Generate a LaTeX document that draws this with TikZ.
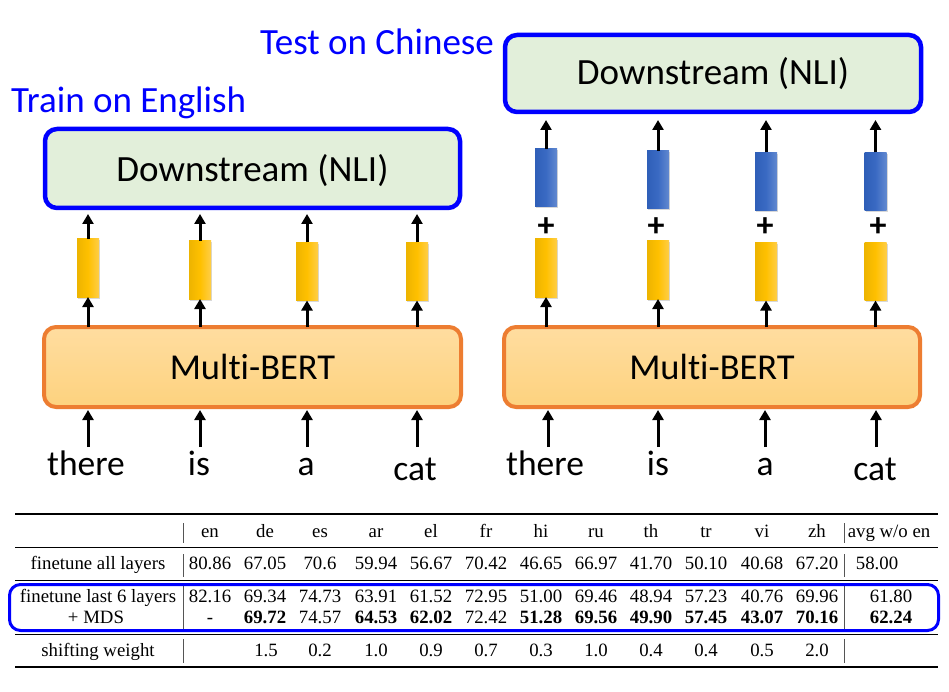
\documentclass[tikz,border=0pt]{standalone}
\usepackage{fontspec}
\setmainfont{Liberation Serif}
\newfontfamily\calib[Ligatures=NoCommon]{Carlito}
\usetikzlibrary{arrows.meta,shadows}
\definecolor{dsfill}{HTML}{E2EFDA}
\definecolor{bord}{HTML}{0000FF}
\definecolor{orng}{HTML}{ED7D31}
\definecolor{mbtop}{HTML}{FFDDA0}
\definecolor{mbbot}{HTML}{FDD27E}
\definecolor{yl}{HTML}{EDB400}
\definecolor{ym}{HTML}{FFC000}
\definecolor{yr}{HTML}{FFCE48}
\definecolor{bl}{HTML}{2F5FB8}
\definecolor{bm}{HTML}{3A6AC3}
\definecolor{br}{HTML}{6289D0}
\definecolor{vbar}{HTML}{555555}
\begin{document}
\begin{tikzpicture}[x=1pt,y=-1pt,
  dsbox/.style={draw=bord, line width=4.5pt, fill=dsfill, rounded corners=12pt,
    minimum width=415pt, minimum height=79pt, inner sep=0pt, outer sep=0pt,
    font=\calib\fontsize{37}{40}\selectfont, text depth=0pt},
  mbbox/.style={draw=orng, line width=4pt, top color=mbtop, bottom color=mbbot, rounded corners=12pt,
    minimum width=417pt, minimum height=80pt, inner sep=0pt, outer sep=0pt,
    font=\calib\fontsize{36.5}{40}\selectfont, text height=24pt, text depth=0pt},
  ybar/.style={minimum width=22pt, minimum height=58pt, inner sep=0pt, outer sep=0pt,
    left color=yl, right color=yr, middle color=ym,
    drop shadow={opacity=0.3, shadow xshift=1.2pt, shadow yshift=-1.5pt}},
  bbar/.style={minimum width=22pt, minimum height=58pt, inner sep=0pt, outer sep=0pt,
    left color=bl, right color=br, middle color=bm,
    drop shadow={opacity=0.3, shadow xshift=1.2pt, shadow yshift=-1.5pt}},
  arr/.style={-{Triangle[width=11pt,length=10pt]}, line width=3pt},
  word/.style={anchor=base, inner sep=0pt, font=\calib\fontsize{35.5}{40}\selectfont},
  ttl/.style={anchor=base west, inner sep=0pt, text=bord, font=\calib\fontsize{37}{40}\selectfont},
  plus/.style={inner sep=0pt, font=\calib\bfseries\fontsize{34}{34}\selectfont},
  tc/.style={anchor=base, inner sep=0pt, font=\fontsize{18.8}{20}\selectfont},
  thick rule/.style={line width=1.5pt},
  thin rule/.style={line width=0.8pt},
  vsep/.style={draw=vbar, line width=1pt}
]
\useasboundingbox (0,0) rectangle (949,692);
\fill[white] (0,0) rectangle (949,692);

% titles
\node[ttl] (trainE) at (11,113) {Train on English};
\node[ttl] (testC) at (260,55) {Test on Chinese};

% ---------- left diagram ----------
\node[dsbox, text height=27pt] (dsL) at (252.5,168.5) {Downstream (NLI)};
\node[mbbox] (mbL) at (252.5,367) {Multi-BERT};

\node[ybar] (ly1) at (88,268) {};
\node[ybar] (ly2) at (200,270) {};
\node[ybar] (ly3) at (307,271.5) {};
\node[ybar] (ly4) at (417,271.5) {};

\foreach \i in {1,...,4} {
  \draw[arr, shorten >=6pt] (ly\i.north) -- (ly\i.north |- dsL.south);
  \draw[arr] (ly\i.south |- mbL.north) -- (ly\i.south);
}

\node[word] (lw1) at (86,475) {there};
\node[word] (lw2) at (199,475) {is};
\node[word] (lw3) at (306,475) {a};
\node[word] (lw4) at (415,480) {cat};
\coordinate (la1) at (88,447);
\coordinate (la2) at (200,447);
\coordinate (la3) at (307,447);
\coordinate (la4) at (417,447);
\foreach \i in {1,...,4}
  \draw[arr, shorten >=3pt] (la\i) -- (la\i |- mbL.south);

% ---------- right diagram ----------
\node[dsbox, text height=23pt, minimum width=416pt, minimum height=77pt] (dsR) at (713,73.5) {Downstream (NLI)};
\node[mbbox, minimum width=416pt] (mbR) at (712,367) {Multi-BERT};

\node[bbar] (rb1) at (546,178) {};
\node[bbar] (rb2) at (658,180) {};
\node[bbar] (rb3) at (766,181.5) {};
\node[bbar] (rb4) at (875.5,181.5) {};
\node[ybar] (ry1) at (546,268) {};
\node[ybar] (ry2) at (658,270) {};
\node[ybar] (ry3) at (766,271.5) {};
\node[ybar] (ry4) at (875.5,271.5) {};

\node[plus] (p1) at (546,227) {+};
\node[plus] (p2) at (656,227) {+};
\node[plus] (p3) at (765,227) {+};
\node[plus] (p4) at (878,227) {+};

\foreach \i in {1,...,4} {
  \draw[arr, shorten >=8pt] (rb\i.north) -- (rb\i.north |- dsR.south);
  \draw[arr] (ry\i.south |- mbR.north) -- (ry\i.south);
}

\node[word] (rw1) at (545,475) {there};
\node[word] (rw2) at (658,475) {is};
\node[word] (rw3) at (765,475) {a};
\node[word] (rw4) at (875,480) {cat};
\coordinate (ra1) at (548,447);
\coordinate (ra2) at (658,447);
\coordinate (ra3) at (765,447);
\coordinate (ra4) at (876,447);
\foreach \i in {1,...,4}
  \draw[arr, shorten >=3pt] (ra\i) -- (ra\i |- mbR.south);

% ---------- table ----------
\draw[thick rule] (15,514) -- (938,514);
\draw[thin rule] (15,547) -- (938,547);
\draw[thin rule] (15,580) -- (938,580);
\draw[thin rule] (15,634) -- (938,634);
\draw[thick rule] (15,667) -- (938,667);

\foreach \x in {183,844} {
  \draw[vsep] (\x,523) -- (\x,543);
  \draw[vsep] (\x,554) -- (\x,577);
  \draw[vsep] (\x,586) -- (\x,630);
  \draw[vsep] (\x,639) -- (\x,663);
}

\foreach \t/\x in {en/210,de/265,es/320,ar/376,el/431,fr/486,hi/541,ru/596,th/651,tr/706,vi/762,zh/817}
  \node[tc] (h-\t) at (\x,537) {\t};
\node[tc] (h-avg) at (889,537) {avg w/o en};

\node[tc] (lab1) at (98,569) {finetune all layers};
\foreach \t/\x [count=\i] in {80.86/210,67.05/265,70.6/320,59.94/376,56.67/431,70.42/486,46.65/541,66.97/596,41.70/651,50.10/706,40.68/762,67.20/817,58.00/877}
  \node[tc] (a-\i) at (\x,569) {\t};

\node[tc] (lab2) at (98,602) {finetune last 6 layers};
\foreach \t/\x [count=\i] in {82.16/210,69.34/265,74.73/320,63.91/376,61.52/431,72.95/486,51.00/541,69.46/596,48.94/651,57.23/706,40.76/762,69.96/817,61.80/891}
  \node[tc] (b-\i) at (\x,602) {\t};

\node[tc] (lab3) at (96,623) {+ MDS};
\foreach \t/\x [count=\i] in {-/210,\textbf{69.72}/265,74.57/320,\textbf{64.53}/376,\textbf{62.02}/431,72.42/486,\textbf{51.28}/541,\textbf{69.56}/596,\textbf{49.90}/651,\textbf{57.45}/706,\textbf{43.07}/762,\textbf{70.16}/817,\textbf{62.24}/891}
  \node[tc] (c-\i) at (\x,623) {\t};

\node[tc] (lab4) at (98,656) {shifting weight};
\foreach \t/\x [count=\i] in {1.5/266,0.2/320,1.0/376,0.9/431,0.7/486,0.3/541,1.0/596,0.4/651,0.4/706,0.5/762,2.0/817}
  \node[tc] (d-\i) at (\x,656) {\t};

\node[draw=bord, line width=3pt, rounded corners=11pt, minimum width=929pt, minimum height=46pt, inner sep=0pt] (mdsbox) at (474,607.5) {};
\end{tikzpicture}
\end{document}
